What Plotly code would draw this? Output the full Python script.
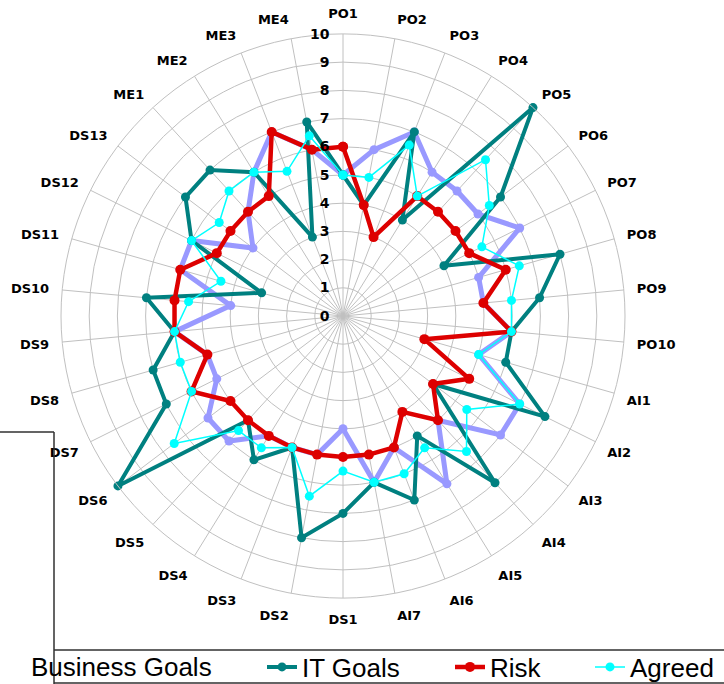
import plotly.graph_objects as go

# Process categories, clockwise from the top
categories = (
    [f"PO{i}" for i in range(1, 11)]
    + [f"AI{i}" for i in range(1, 8)]
    + [f"DS{i}" for i in range(1, 14)]
    + [f"ME{i}" for i in range(1, 5)]
)

business_goals = [5, 6, 7, 6, 6, 6, 7, 5, 5, 6,
                  5, 7, 7, 5, 7, 5, 6,
                  4, 5, 5, 5, 6, 6, 5, 5, 6, 4, 6, 6, 4,
                  5, 6, 7, 6]
it_goals = [5, 4, 7, 4, 10, 7, 4, 8, 7, 6,
            6, 8, 4, 8, 5, 7, 6,
            7, 8, 5, 6, 5, 10, 7, 7, 6, 7, 3, 6, 7,
            7, 6, 3, 7]
risk = [6, 4, 3, 5, 5, 5, 5, 6, 5, 6,
        3, 5, 4, 5, 4, 5, 5,
        5, 5, 5, 5, 5, 5, 6, 5, 6, 6, 6, 5, 5,
        5, 5, 7, 6]
agreed = [5, 5, 6.5, 5, 7.5, 6.5, 5.5, 6.5, 6, 6,
          5, 7, 5.5, 6.5, 5.5, 6, 6,
          5.5, 6.5, 5, 5.5, 5.5, 7.5, 6, 6, 6, 5.5, 4.5, 6, 5.5,
          6, 6, 5.5, 6.5]

W, H = 724, 684


def closed(values):
    return list(values) + [values[0]]


theta = closed(categories)

fig = go.Figure()

fig.add_trace(go.Scatterpolar(
    r=closed(business_goals), theta=theta, mode="lines+markers",
    name="Business Goals", showlegend=False,
    line=dict(color="#9999FF", width=5),
    marker=dict(color="#9999FF", size=9),
))
fig.add_trace(go.Scatterpolar(
    r=closed(it_goals), theta=theta, mode="lines+markers",
    name="IT Goals", legend="legend",
    line=dict(color="#008080", width=4),
    marker=dict(color="#008080", size=9),
))
fig.add_trace(go.Scatterpolar(
    r=closed(risk), theta=theta, mode="lines+markers",
    name="Risk", legend="legend2",
    line=dict(color="#DD0000", width=4.5),
    marker=dict(color="#DD0000", size=10),
))
fig.add_trace(go.Scatterpolar(
    r=closed(agreed), theta=theta, mode="lines+markers",
    name="Agreed", legend="legend3",
    line=dict(color="#00FFFF", width=1.5),
    marker=dict(color="#00FFFF", size=9),
))

# Polar area: centre (343, 316) px, outer radius 282 px
cx, cy, rad = 343, 316, 282
grid = "#C0C0C0"
label_font = dict(family="DejaVu Sans", size=13, color="black", weight="bold")
legend_font = dict(family="Liberation Sans", size=26, color="black")
legend_y = 17 / H

fig.update_layout(
    width=W, height=H,
    margin=dict(l=0, r=0, t=0, b=0, autoexpand=False),
    paper_bgcolor="white",
    polar=dict(
        domain=dict(x=[(cx - rad) / W, (cx + rad) / W],
                    y=[(H - cy - rad) / H, (H - cy + rad) / H]),
        bgcolor="white",
        angularaxis=dict(
            direction="clockwise", rotation=90,
            categoryorder="array", categoryarray=categories,
            showgrid=True, gridcolor=grid, gridwidth=1,
            showline=True, linecolor=grid, linewidth=1,
            ticks="outside", ticklen=10, tickcolor="rgba(0,0,0,0)",
            tickfont=label_font,
        ),
        radialaxis=dict(
            range=[0, 10], dtick=1, angle=90, tickangle=90,
            side="counterclockwise",
            showgrid=True, gridcolor=grid, gridwidth=1,
            showline=False,
            ticks="outside", ticklen=8, tickcolor="rgba(0,0,0,0)",
            tickfont=dict(family="DejaVu Sans", size=14, color="black", weight="bold"),
        ),
    ),
    legend=dict(orientation="h", x=262 / W, xanchor="left", y=legend_y, yanchor="middle",
                font=legend_font, bgcolor="rgba(0,0,0,0)"),
    legend2=dict(orientation="h", x=450 / W, xanchor="left", y=legend_y, yanchor="middle",
                 font=legend_font, bgcolor="rgba(0,0,0,0)"),
    legend3=dict(orientation="h", x=590 / W, xanchor="left", y=legend_y, yanchor="middle",
                 font=legend_font, bgcolor="rgba(0,0,0,0)"),
)

fig.add_annotation(
    text="Business Goals", x=214 / W, y=legend_y, xref="paper", yref="paper",
    xanchor="right", yanchor="middle", showarrow=False, font=legend_font,
)

# Frame lines around the legend strip
frame = dict(color="#303030", width=1.5)


def px_line(x0, y0, x1, y1):
    fig.add_shape(type="line", xref="paper", yref="paper",
                  x0=x0 / W, y0=1 - y0 / H, x1=x1 / W, y1=1 - y1 / H, line=frame)


px_line(0, 432, 54, 432)
px_line(54, 432, 54, 684)
px_line(54, 650, 724, 650)
px_line(54, 683, 724, 683)

fig.write_html("out.html")
